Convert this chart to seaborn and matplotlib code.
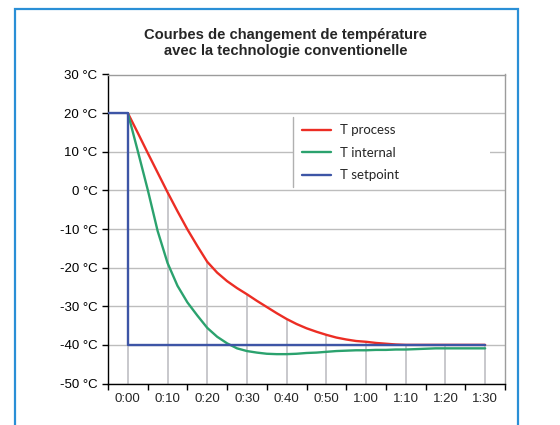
import matplotlib
matplotlib.use("Agg")
import matplotlib.pyplot as plt
from matplotlib.patches import Rectangle
from matplotlib.lines import Line2D
from matplotlib.ticker import FixedLocator, FuncFormatter
import pandas as pd
import seaborn as sns

# Elapsed time labels (one per 10 minutes)
time_labels = ["0:00", "0:10", "0:20", "0:30", "0:40", "0:50",
               "1:00", "1:10", "1:20", "1:30"]
label_minutes = [0, 10, 20, 30, 40, 50, 60, 70, 80, 90]

# Measured curves, sampled every 2.5 minutes
sample_minutes = [0, 2.5, 5, 7.5, 10, 12.5, 15, 17.5, 20, 22.5, 25, 27.5, 30,
                  32.5, 35, 37.5, 40, 42.5, 45, 47.5, 50, 52.5, 55, 57.5, 60,
                  62.5, 65, 67.5, 70, 72.5, 75, 77.5, 80, 82.5, 85, 87.5, 90]
t_process = [20, 14.9, 9.7, 4.6, -0.5, -5.4, -10.1, -14.4, -18.5, -21.3, -23.5,
             -25.3, -26.9, -28.6, -30.2, -31.8, -33.3, -34.6, -35.7, -36.6,
             -37.4, -38.1, -38.6, -39.0, -39.2, -39.5, -39.7, -39.9, -40,
             -40, -40, -40, -40, -40, -40, -40, -40]
t_internal = [20, 10.2, 0.2, -10.5, -18.8, -24.7, -29.0, -32.4, -35.6, -37.9,
              -39.6, -40.9, -41.6, -42.0, -42.3, -42.4, -42.4, -42.3, -42.1,
              -42.0, -41.8, -41.6, -41.5, -41.4, -41.4, -41.3, -41.3, -41.2,
              -41.2, -41.1, -41.0, -40.9, -40.9, -40.9, -40.9, -40.9, -40.9]

# Setpoint: held at +20 °C before the start, then stepped to -40 °C
setpoint_minutes = [-5, 0, 0, 90]
t_setpoint = [20, 20, -40, -40]

y_ticks = [30, 20, 10, 0, -10, -20, -30, -40, -50]

series_names = ["T process", "T internal", "T setpoint"]
series_colors = ["#ec2d24", "#2ba26e", "#3d55a6"]

title_text = "Courbes de changement de température\navec la technologie conventionelle"

sns.set_style("white")
plt.rcParams["font.family"] = ["Liberation Sans", "DejaVu Sans"]

fig = plt.figure(figsize=(5.6, 4.25), dpi=100)
ax = fig.add_axes([108 / 560, 1 - 383.5 / 425, 397 / 560, 309 / 425])

df_proc = pd.DataFrame({"minute": sample_minutes, "temp": t_process})
df_int = pd.DataFrame({"minute": sample_minutes, "temp": t_internal})
df_set = pd.DataFrame({"minute": setpoint_minutes, "temp": t_setpoint})

# Drop lines from the highest curve at each labelled time down to the axis
proc_map = dict(zip(sample_minutes, t_process))
int_map = dict(zip(sample_minutes, t_internal))
set_at = {m: (t_setpoint[0] if m == 0 else t_setpoint[-1]) for m in label_minutes}
drop_tops = [max(proc_map[m], int_map[m], set_at[m]) for m in label_minutes]
ax.vlines(label_minutes, min(y_ticks), drop_tops, color="#c4c4c8", lw=1.3, zorder=1)

sns.lineplot(data=df_proc, x="minute", y="temp", ax=ax, color=series_colors[0],
             lw=1.7, sort=False, estimator=None, label=series_names[0], zorder=3)
sns.lineplot(data=df_int, x="minute", y="temp", ax=ax, color=series_colors[1],
             lw=1.7, sort=False, estimator=None, label=series_names[1], zorder=3)
sns.lineplot(data=df_set, x="minute", y="temp", ax=ax, color=series_colors[2],
             lw=1.7, sort=False, estimator=None, label=series_names[2], zorder=4)

ax.set_xlim(-5, 95)
ax.set_ylim(min(y_ticks), max(y_ticks))
ax.set_xlabel("")
ax.set_ylabel("")

# Horizontal gridlines
ax.set_yticks(y_ticks)
ax.yaxis.grid(True, color="#bdbdbd", lw=1.0, zorder=0)
ax.set_axisbelow(True)
ax.yaxis.set_major_formatter(FuncFormatter(lambda v, p: f"{int(v)} °C"))
ax.tick_params(axis="y", direction="out", length=4, width=1, pad=3.5,
               labelsize=9.5, colors="black", left=True)

# Category labels centered, tick marks between categories
ax.set_xticks(label_minutes)
ax.set_xticklabels(time_labels)
ax.xaxis.set_minor_locator(FixedLocator([m - 5 for m in label_minutes] + [95]))
ax.tick_params(axis="x", which="major", length=0, pad=7, labelsize=9.5)
ax.tick_params(axis="x", which="minor", direction="out", length=4, width=1,
               color="black", bottom=True)

for side in ["left", "bottom"]:
    ax.spines[side].set_color("black")
    ax.spines[side].set_linewidth(1.0)
for side in ["top", "right"]:
    ax.spines[side].set_visible(True)
    ax.spines[side].set_color("#9c9c9c")
    ax.spines[side].set_linewidth(1.0)

# Legend panel
lx0 = (293 - 108) / 397
lx1 = (490 - 108) / 397
ly0 = (383.5 - 187) / 309
ly1 = (383.5 - 117) / 309
ax.add_patch(Rectangle((lx0, ly0), lx1 - lx0, ly1 - ly0, transform=ax.transAxes,
                       facecolor="white", edgecolor="none", zorder=2))
ax.add_line(Line2D([lx0, lx0], [ly0, ly1], transform=ax.transAxes,
                   color="#b0b0b0", lw=1.0, zorder=2))
leg = ax.legend(loc="upper left",
                bbox_to_anchor=((296.5 - 108) / 397, (383.5 - 119) / 309),
                frameon=False, handlelength=2.2, handletextpad=0.7,
                labelspacing=0.8, borderaxespad=0.0,
                prop={"family": ["Lato", "DejaVu Sans"], "size": 9.5})
for line in leg.get_lines():
    line.set_linewidth(1.7)

fig.text(286 / 560, 1 - 43 / 425, title_text, ha="center", va="center",
         fontsize=10.6, fontweight="bold", linespacing=1.15)

# Outer frame
fig.add_artist(Rectangle((15 / 560, -0.05), (518 - 15) / 560, 1 - 9 / 425 + 0.05,
                         transform=fig.transFigure, fill=False,
                         edgecolor="#2a8fd6", lw=1.6))

fig.savefig("out.png", dpi=100)
